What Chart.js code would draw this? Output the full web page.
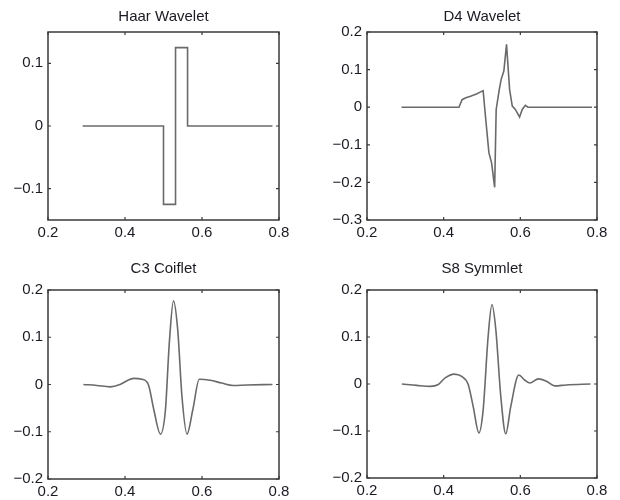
<!DOCTYPE html>
<html>
<head>
<meta charset="utf-8">
<script src="https://cdn.jsdelivr.net/npm/chart.js@4"></script>
<style>
  html,body{margin:0;padding:0;background:#fff;}
  #wrap{position:relative;width:620px;height:500px;background:#fff;}
  canvas{position:absolute;}
</style>
</head>
<body>
<div id="wrap">
  <canvas id="c1" width="310" height="250" style="left:0;top:0"></canvas>
  <canvas id="c2" width="310" height="250" style="left:310px;top:0"></canvas>
  <canvas id="c3" width="310" height="250" style="left:0;top:250px"></canvas>
  <canvas id="c4" width="310" height="250" style="left:310px;top:250px"></canvas>
</div>
<script>
// ---- data ----
const titles = ["Haar Wavelet", "D4 Wavelet", "C3 Coiflet", "S8 Symmlet"];
const xTicks = [0.2, 0.4, 0.6, 0.8];
const yTicksHaar = [-0.1, 0, 0.1];
const yTicksD4 = [-0.3, -0.2, -0.1, 0, 0.1, 0.2];
const yTicksC3 = [-0.2, -0.1, 0, 0.1, 0.2];
const yTicksS8 = [-0.2, -0.1, 0, 0.1, 0.2];

const haarX = [0.29, 0.5, 0.5, 0.53125, 0.53125, 0.5625, 0.5625, 0.783];
const haarY = [0, 0, -0.125, -0.125, 0.125, 0.125, 0, 0];

const d4X = [0.29, 0.44, 0.448, 0.458, 0.47, 0.487, 0.503, 0.509, 0.518, 0.525, 0.533, 0.537, 0.545, 0.55, 0.557, 0.564, 0.572, 0.579, 0.587, 0.598, 0.605, 0.613, 0.62, 0.787];
const d4Y = [0, 0, 0.02, 0.025, 0.029, 0.036, 0.044, -0.024, -0.121, -0.148, -0.213, -0.006, 0.047, 0.074, 0.096, 0.167, 0.047, 0.003, -0.006, -0.026, -0.006, 0.005, 0, 0];

const c3X = [0.292, 0.327, 0.361, 0.387, 0.405, 0.422, 0.444, 0.461, 0.475, 0.492, 0.505, 0.515, 0.526, 0.537, 0.548, 0.561, 0.576, 0.593, 0.621, 0.651, 0.681, 0.716, 0.783];
const c3Y = [0, -0.002, -0.005, 0, 0.008, 0.013, 0.011, -0.001, -0.054, -0.105, -0.054, 0.087, 0.177, 0.115, -0.026, -0.105, -0.054, 0.011, 0.009, 0.003, -0.002, -0.001, 0];

const s8X = [0.291, 0.330, 0.365, 0.386, 0.404, 0.427, 0.447, 0.464, 0.477, 0.492, 0.503, 0.516, 0.526, 0.536, 0.549, 0.562, 0.575, 0.596, 0.612, 0.625, 0.647, 0.668, 0.690, 0.720, 0.783];
const s8Y = [0, -0.003, -0.005, -0.001, 0.013, 0.021, 0.016, -0.001, -0.048, -0.104, -0.055, 0.101, 0.169, 0.116, -0.026, -0.106, -0.048, 0.019, 0.008, 0.002, 0.011, 0.006, -0.004, -0.002, 0];

// ---- styling ----
const FONT = "'Liberation Sans', Arial, sans-serif";
const TEXT = '#1a1a22';
const FRAME = '#3a3a3a';
const LINE = '#6a6a6a';

const framePlugin = {
  id: 'frame',
  afterDraw(chart) {
    const { ctx, chartArea: a, scales: { x, y } } = chart;
    ctx.save();
    ctx.strokeStyle = FRAME;
    ctx.lineWidth = 1.5;
    ctx.strokeRect(a.left, a.top, a.right - a.left, a.bottom - a.top);
    ctx.lineWidth = 1.2;
    const L = 3;
    ctx.beginPath();
    x.ticks.forEach(t => {
      const px = x.getPixelForValue(t.value);
      ctx.moveTo(px, a.bottom); ctx.lineTo(px, a.bottom - L);
      ctx.moveTo(px, a.top); ctx.lineTo(px, a.top + L);
    });
    y.ticks.forEach(t => {
      const py = y.getPixelForValue(t.value);
      ctx.moveTo(a.left, py); ctx.lineTo(a.left + L, py);
      ctx.moveTo(a.right, py); ctx.lineTo(a.right - L, py);
    });
    ctx.stroke();
    ctx.restore();
  }
};

function fmt(v) {
  if (Math.abs(v) < 1e-9) return '0';
  return (v < 0 ? '\u2212' : '') + Math.abs(v).toFixed(1);
}

function makeChart(id, title, xs, ys, yMin, yMax, yTicks, smooth, target, titlePad) {
  const cfg = {
    type: 'line',
    data: {
      datasets: [{
        data: xs.map((x, i) => ({ x: x, y: ys[i] })),
        borderColor: LINE,
        borderWidth: 1.6,
        pointRadius: 0,
        fill: false,
        tension: 0,
        cubicInterpolationMode: smooth ? 'monotone' : 'default'
      }]
    },
    options: {
      responsive: false,
      animation: false,
      events: [],
      layout: { padding: { left: 0, top: 0, right: 0, bottom: 0 } },
      plugins: {
        legend: { display: false },
        tooltip: { enabled: false },
        title: {
          display: true,
          text: title,
          fullSize: false,
          color: TEXT,
          font: { family: FONT, size: 15, weight: 'normal', lineHeight: 1.2 },
          padding: { top: 0, bottom: titlePad }
        }
      },
      scales: {
        x: {
          type: 'linear',
          min: 0.2, max: 0.8,
          grid: { display: false, drawTicks: false },
          border: { display: false },
          afterBuildTicks: s => { s.ticks = xTicks.map(v => ({ value: v })); },
          ticks: {
            color: TEXT, padding: 4, maxRotation: 0, autoSkip: false,
            font: { family: FONT, size: 15 },
            callback: v => fmt(v)
          }
        },
        y: {
          type: 'linear',
          min: yMin, max: yMax,
          grid: { display: false, drawTicks: false },
          border: { display: false },
          afterBuildTicks: s => { s.ticks = yTicks.map(v => ({ value: v })); },
          ticks: {
            color: TEXT, padding: 5, autoSkip: false,
            font: { family: FONT, size: 15 },
            callback: v => fmt(v)
          }
        }
      }
    },
    plugins: [framePlugin]
  };
  const chart = new Chart(document.getElementById(id), cfg);
  for (let i = 0; i < 3; i++) {
    const a = chart.chartArea;
    const p = chart.config.options.layout.padding;
    chart.config.options.layout.padding = {
      left: p.left + (target.left - a.left),
      top: p.top + (target.top - a.top),
      right: p.right + (a.right - target.right),
      bottom: p.bottom + (a.bottom - target.bottom)
    };
    chart.update('none');
  }
  return chart;
}

makeChart('c1', titles[0], haarX, haarY, -0.15, 0.15, yTicksHaar, false,
  { left: 48, top: 32, right: 279, bottom: 220 }, 6);
makeChart('c2', titles[1], d4X, d4Y, -0.3, 0.2, yTicksD4, false,
  { left: 57, top: 32, right: 287, bottom: 220 }, 6);
makeChart('c3', titles[2], c3X, c3Y, -0.2, 0.2, yTicksC3, true,
  { left: 48, top: 40, right: 279, bottom: 229 }, 12);
makeChart('c4', titles[3], s8X, s8Y, -0.2, 0.2, yTicksS8, true,
  { left: 57, top: 40, right: 287, bottom: 228 }, 12);
</script>
</body>
</html>
